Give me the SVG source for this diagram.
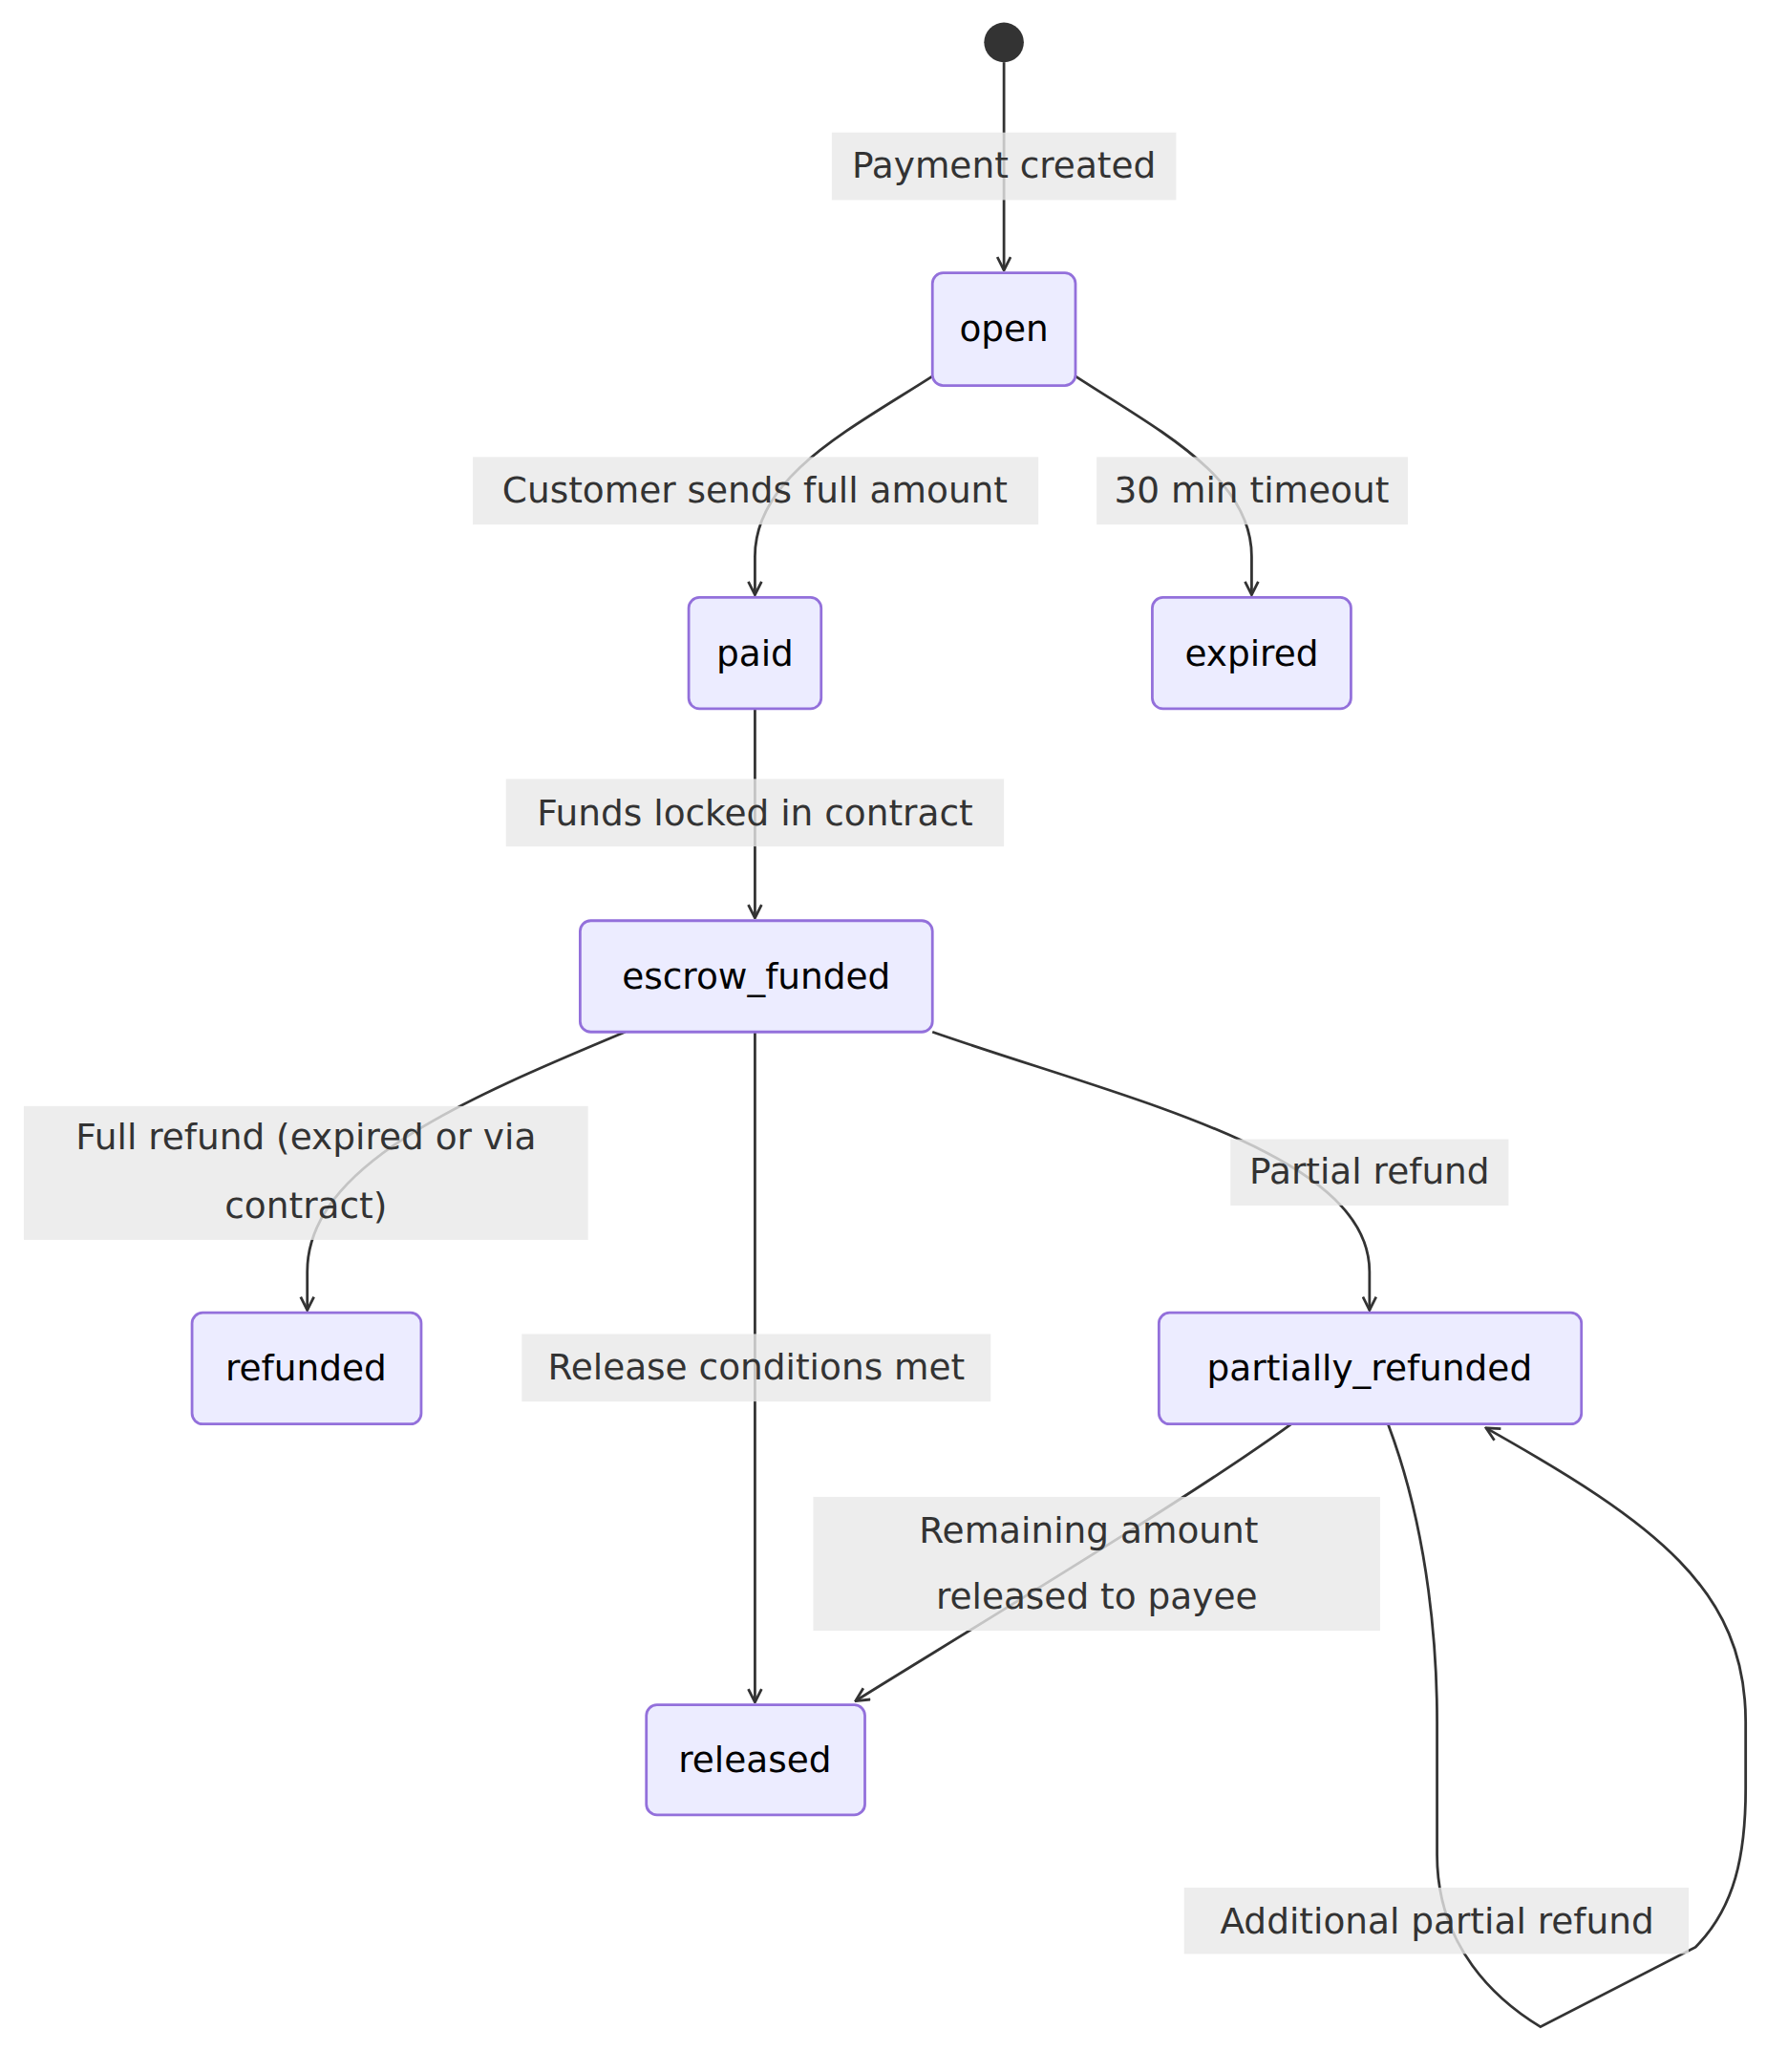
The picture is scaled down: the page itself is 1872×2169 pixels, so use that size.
<svg xmlns="http://www.w3.org/2000/svg" width="1872" height="2169" viewBox="0 0 1872 2169">
<style>
.n rect{fill:#ECECFF;stroke:#9370DB;stroke-width:2}
.n text,.l text{font-family:"DejaVu Sans",Verdana,sans-serif;font-size:27px;text-anchor:middle;dominant-baseline:central}
.n text{fill:#000}
.l text{fill:#333}
.l rect{fill:#e8e8e8;opacity:0.8}
.e path{fill:none;stroke:#333;stroke-width:2;marker-end:url(#a)}
</style>
<defs><marker id="a" viewBox="0 0 12 12" refX="11" refY="6" markerWidth="12" markerHeight="12" orient="auto" markerUnits="userSpaceOnUse"><path d="M1,1 L11,6 L1,11" fill="none" stroke="#333" stroke-width="2"/></marker></defs>
<rect width="1872" height="2169" fill="#fff"/>
<g transform="scale(1.3867)">
<g class="e" id="edges">
<path d="M758,47 L758,204"/>
<path d="M704,284 C640,325 570,360 570,420 L570,449"/>
<path d="M812,284 C875,325 945,360 945,420 L945,449"/>
<path d="M570,535 L570,693"/>
<path d="M472,779 C350,830 232,880 232,960 L232,989"/>
<path d="M570,779 L570,1285"/>
<path d="M704,779 C850,830 1034,870 1034,960 L1034,989"/>
<path d="M975,1075 C900,1130 700,1250 646,1284"/>
<path d="M1048,1075 C1080,1160 1085,1250 1085,1300 L1085,1400 C1085,1470 1130,1510 1163,1530 L1280,1470 C1310,1440 1318,1400 1318,1350 L1318,1300 C1318,1200 1250,1150 1122,1078"/>
</g>
<g class="l" id="labels">
<rect x="628" y="100" width="260" height="51"/><text x="758" y="125">Payment created</text>
<rect x="357" y="345" width="427" height="51"/><text x="570" y="370">Customer sends full amount</text>
<rect x="828" y="345" width="235" height="51"/><text x="945" y="370">30 min timeout</text>
<rect x="382" y="588" width="376" height="51"/><text x="570" y="614">Funds locked in contract</text>
<rect x="18" y="835" width="426" height="101"/><text x="231" y="858">Full refund (expired or via</text><text x="231" y="910">contract)</text>
<rect x="394" y="1007" width="354" height="51"/><text x="571" y="1032">Release conditions met</text>
<rect x="929" y="860" width="210" height="50"/><text x="1034" y="884">Partial refund</text>
<rect x="614" y="1130" width="428" height="101"/><text x="822" y="1155">Remaining amount</text><text x="828" y="1205">released to payee</text>
<rect x="894" y="1425" width="381" height="50"/><text x="1085" y="1450">Additional partial refund</text>
</g>
<circle id="start" cx="758" cy="32" r="15" fill="#333"/>
<g class="n" id="open"><rect x="704" y="206" width="108" height="85" rx="8"/><text x="758" y="248">open</text></g>
<g class="n" id="paid"><rect x="520" y="451" width="100" height="84" rx="8"/><text x="570" y="493">paid</text></g>
<g class="n" id="expired"><rect x="870" y="451" width="150" height="84" rx="8"/><text x="945" y="493">expired</text></g>
<g class="n" id="escrow_funded"><rect x="438" y="695" width="266" height="84" rx="8"/><text x="571" y="737">escrow_funded</text></g>
<g class="n" id="refunded"><rect x="145" y="991" width="173" height="84" rx="8"/><text x="231" y="1033">refunded</text></g>
<g class="n" id="partially_refunded"><rect x="875" y="991" width="319" height="84" rx="8"/><text x="1034" y="1033">partially_refunded</text></g>
<g class="n" id="released"><rect x="488" y="1287" width="165" height="83" rx="8"/><text x="570" y="1328">released</text></g>
</g>
</svg>
